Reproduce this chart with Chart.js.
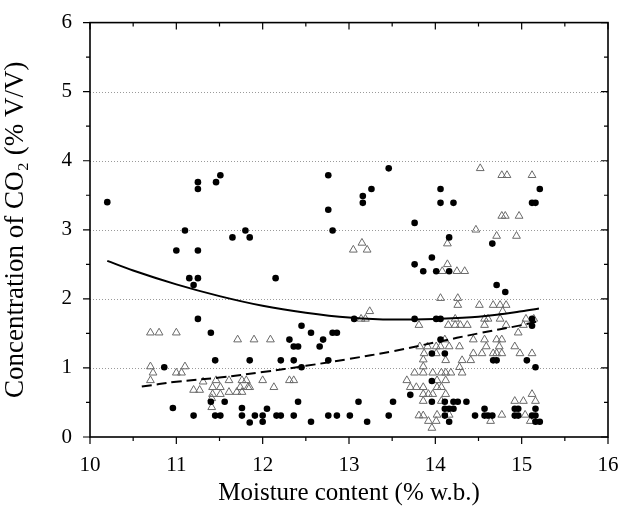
<!DOCTYPE html>
<html>
<head>
<meta charset="utf-8">
<script src="https://cdn.jsdelivr.net/npm/chart.js@4.4.1/dist/chart.umd.min.js"></script>
<style>
  html, body { margin: 0; padding: 0; background: #fff; }
  #wrap { width: 633px; height: 508px; }
</style>
</head>
<body>
<div id="wrap"><canvas id="co2Chart" width="633" height="508"></canvas></div>
<script>
// filled circles
var dotX = [10.20, 11.25, 11.25, 11.46, 11.51, 11.10, 11.65, 11.80, 11.85, 11.00, 11.25, 11.15, 11.25, 11.20,
  11.25, 11.40, 11.45, 10.86, 11.85, 10.96, 11.20, 11.40, 11.56, 11.45, 11.51, 11.76, 11.76, 11.85, 11.91, 12.00, 12.00, 12.05,
  12.15, 12.76, 12.76, 12.81, 13.16, 13.16, 13.26, 13.46,
  12.45, 12.56, 12.31, 12.36, 12.41, 12.66, 12.70, 12.81, 12.86, 12.21, 12.36, 12.76, 12.45,
  12.41, 12.16, 12.21, 12.36, 12.56, 12.76, 12.86, 13.01, 13.11, 13.21, 13.46, 13.51, 13.71,
  14.06, 14.06, 14.21, 15.21, 15.12, 15.16, 13.76, 14.16, 14.66, 13.76, 13.86, 13.96, 14.01, 14.16, 14.71, 14.81,
  13.06, 13.76, 14.01, 14.06, 15.12, 15.12, 14.06, 13.96, 14.11, 14.67, 14.71, 15.06, 15.16,
  13.96, 13.96, 14.11, 14.21, 14.26, 14.36, 14.11, 14.16, 14.21, 14.57, 14.11, 14.46, 14.57, 14.61, 14.66, 14.16,
  14.92, 14.96, 15.16, 14.92, 14.96, 15.12, 15.16, 15.16, 15.21];
var dotY = [3.40, 3.69, 3.59, 3.69, 3.79, 2.99, 2.89, 2.99, 2.89, 2.70, 2.70, 2.30, 2.30, 2.20,
  1.71, 1.51, 1.11, 1.01, 1.11, 0.42, 0.31, 0.51, 0.51, 0.31, 0.31, 0.42, 0.31, 0.21, 0.31, 0.31, 0.22, 0.41,
  2.30, 3.79, 3.29, 2.99, 3.49, 3.39, 3.59, 3.89,
  1.61, 1.51, 1.41, 1.31, 1.31, 1.31, 1.41, 1.51, 1.51, 1.11, 1.11, 1.11, 1.01,
  0.51, 0.31, 0.31, 0.31, 0.22, 0.31, 0.31, 0.31, 0.51, 0.22, 0.31, 0.51, 0.61,
  3.59, 3.39, 3.39, 3.59, 3.39, 3.39, 3.10, 2.89, 2.80, 2.50, 2.40, 2.60, 2.40, 2.40, 2.20, 2.10,
  1.71, 1.71, 1.71, 1.71, 1.71, 1.61, 1.41, 1.21, 1.21, 1.11, 1.11, 1.11, 1.01,
  0.81, 0.51, 0.51, 0.51, 0.51, 0.51, 0.41, 0.41, 0.41, 0.41, 0.31, 0.31, 0.31, 0.31, 0.31, 0.22,
  0.41, 0.41, 0.41, 0.31, 0.31, 0.31, 0.31, 0.22, 0.22];

// open triangles
var triX = [10.70, 10.80, 11.00, 11.71, 11.90, 12.09, 10.70, 10.73, 10.70, 11.00, 11.06, 11.10,
  11.31, 11.20, 11.27, 11.46, 11.42, 11.51, 11.42, 11.51, 11.41, 11.41,
  11.61, 11.76, 11.81, 11.74, 11.83, 11.61, 11.70, 11.76, 12.00, 11.85, 12.13, 12.31, 12.36,
  13.05, 13.15, 13.21, 13.14, 13.19, 13.24, 13.81,
  13.86, 13.86, 13.76, 13.86, 13.67, 13.71, 13.78, 13.86, 13.86, 13.86, 13.81, 13.86,
  14.52, 14.77, 14.83, 15.12, 14.77, 14.81, 14.97, 14.47, 14.71, 14.94, 14.14, 14.14, 14.08, 14.25, 14.34,
  14.06, 14.26, 14.26, 14.51, 14.67, 14.75, 14.82, 14.78, 14.57, 14.61, 14.75, 15.05, 15.14, 14.23,
  14.15, 14.23, 14.29, 14.37, 14.57, 14.82, 15.02, 14.96, 14.11, 14.44, 14.57, 14.71, 14.77,
  13.82, 13.91, 14.01, 14.06, 14.16, 14.28, 14.59, 14.74, 14.92,
  13.87, 14.01, 14.44, 14.54, 14.67, 14.71, 14.77, 14.98, 15.12,
  14.12, 14.31, 14.41, 14.28, 13.97, 14.07, 14.12, 14.18, 14.31, 14.02, 14.12,
  14.02, 14.07, 13.92, 13.97, 14.12, 15.12, 14.07, 14.92, 15.02, 15.16,
  14.02, 14.16, 14.77, 15.04, 13.92, 14.64, 15.10, 13.96, 14.01];
var triY = [1.51, 1.51, 1.51, 1.41, 1.41, 1.41, 1.02, 0.93, 0.82, 0.93, 0.93, 1.02,
  0.80, 0.68, 0.68, 0.82, 0.72, 0.72, 0.62, 0.62, 0.56, 0.43,
  0.82, 0.82, 0.82, 0.72, 0.72, 0.65, 0.65, 0.65, 0.82, 0.72, 0.72, 0.82, 0.82,
  2.71, 2.81, 2.71, 1.71, 1.71, 1.82, 1.62,
  1.12, 1.02, 0.93, 0.93, 0.82, 0.72, 0.72, 0.72, 0.62, 0.52, 0.31, 0.31,
  3.89, 3.79, 3.79, 3.79, 3.20, 3.20, 3.20, 3.00, 2.91, 2.91, 2.80, 2.50, 2.40, 2.40, 2.40,
  2.01, 2.01, 1.91, 1.91, 1.91, 1.91, 1.91, 1.82, 1.71, 1.71, 1.71, 1.71, 1.71, 1.71,
  1.62, 1.62, 1.62, 1.62, 1.62, 1.62, 1.62, 1.51, 1.41, 1.41, 1.41, 1.41, 1.41,
  1.31, 1.31, 1.31, 1.31, 1.31, 1.31, 1.31, 1.31, 1.31,
  1.21, 1.21, 1.21, 1.21, 1.21, 1.21, 1.21, 1.21, 1.21,
  1.11, 1.11, 1.11, 1.01, 0.93, 0.93, 0.93, 0.93, 0.93, 0.82, 0.82,
  0.72, 0.72, 0.62, 0.62, 0.62, 0.62, 0.52, 0.52, 0.52, 0.52,
  0.32, 0.32, 0.32, 0.32, 0.23, 0.23, 0.23, 0.13, 0.23];

// fitted curves
var fitX = [10.2, 10.5, 11.0, 11.5, 12.0, 12.5, 13.0, 13.5, 14.0, 14.5, 15.0, 15.2];
var fitY = [2.55, 2.41, 2.21, 2.04, 1.90, 1.80, 1.73, 1.70, 1.71, 1.74, 1.82, 1.86];
var dashX = [10.6, 11.0, 11.5, 12.0, 12.5, 13.0, 13.5, 14.0, 14.5, 15.0, 15.2];
var dashY = [0.73, 0.80, 0.86, 0.94, 1.03, 1.13, 1.24, 1.37, 1.50, 1.62, 1.68];

var xTicks = [10, 11, 12, 13, 14, 15, 16];
var yTicks = [0, 1, 2, 3, 4, 5, 6];

function pts(xs, ys) {
  return xs.map(function (x, i) { return { x: x, y: ys[i] }; });
}

// frame, inside/outside ticks and dotted grid
var framePlugin = {
  id: 'frame',
  beforeDatasetsDraw: function (chart) {
    var c = chart.ctx, a = chart.chartArea, ys = chart.scales.y;
    c.save();
    c.strokeStyle = '#9a9a9a';
    c.lineWidth = 1;
    c.setLineDash([1, 2]);
    for (var v = 1; v <= 5; v++) {
      var py = Math.round(ys.getPixelForValue(v)) + 0.5;
      c.beginPath(); c.moveTo(a.left, py); c.lineTo(a.right, py); c.stroke();
    }
    c.restore();
  },
  afterDraw: function (chart) {
    var c = chart.ctx, a = chart.chartArea, xs = chart.scales.x, ys = chart.scales.y;
    c.save();
    c.strokeStyle = '#000';
    c.lineWidth = 1.6;
    c.strokeRect(a.left, a.top, a.right - a.left, a.bottom - a.top);
    c.lineWidth = 1.2;
    c.beginPath();
    for (var v = 10; v <= 16.001; v += 0.5) {
      var px = xs.getPixelForValue(v);
      var len = (v % 1 === 0) ? 7 : 4;
      c.moveTo(px, a.bottom); c.lineTo(px, a.bottom + len);
      c.moveTo(px, a.top); c.lineTo(px, a.top + len);
    }
    for (var w = 0; w <= 6.001; w += 0.5) {
      var py = ys.getPixelForValue(w);
      var l2 = (w % 1 === 0) ? 7 : 4;
      c.moveTo(a.left, py); c.lineTo(a.left - l2, py);
      c.moveTo(a.right, py); c.lineTo(a.right - l2, py);
    }
    c.stroke();
    c.restore();
  }
};

var ctx = document.getElementById('co2Chart').getContext('2d');
var myChart = new Chart(ctx, {
  type: 'scatter',
  data: {
    datasets: [
      {
        label: 'fit 1',
        type: 'line',
        data: pts(fitX, fitY),
        borderColor: '#000',
        borderWidth: 2,
        pointRadius: 0,
        tension: 0.4,
        cubicInterpolationMode: 'monotone',
        order: 0
      },
      {
        label: 'fit 2',
        type: 'line',
        data: pts(dashX, dashY),
        borderColor: '#000',
        borderWidth: 2,
        borderDash: [10, 5],
        pointRadius: 0,
        tension: 0.4,
        order: 0
      },
      {
        label: 'dots',
        data: pts(dotX, dotY),
        pointStyle: 'circle',
        pointRadius: 3.3,
        backgroundColor: '#000',
        borderColor: '#000',
        borderWidth: 0,
        order: 1
      },
      {
        label: 'triangles',
        data: pts(triX, triY),
        pointStyle: 'triangle',
        pointRadius: 4.5,
        backgroundColor: 'rgba(255,255,255,0)',
        borderColor: '#6a6a6a',
        borderWidth: 1,
        order: 2
      }
    ]
  },
  options: {
    responsive: false,
    animation: false,
    layout: { padding: { top: 17, right: 25, left: 0, bottom: 0 } },
    plugins: {
      legend: { display: false },
      tooltip: { enabled: false }
    },
    scales: {
      x: {
        type: 'linear',
        min: 10,
        max: 16,
        afterBuildTicks: function (s) { s.ticks = xTicks.map(function (v) { return { value: v }; }); },
        ticks: { color: '#000', font: { family: 'Liberation Serif', size: 21 }, padding: 8, maxRotation: 0 },
        grid: { display: false },
        border: { display: false },
        title: {
          display: true,
          text: 'Moisture content (% w.b.)',
          color: '#000',
          font: { family: 'Liberation Serif', size: 25 },
          padding: { top: 0, bottom: 0 }
        },
        afterFit: function (s) { s.height = 71; }
      },
      y: {
        min: 0,
        max: 6,
        afterBuildTicks: function (s) { s.ticks = yTicks.map(function (v) { return { value: v }; }); },
        ticks: { color: '#000', font: { family: 'Liberation Serif', size: 21 }, padding: 10 },
        grid: { display: false },
        border: { display: false },
        title: {
          display: true,
          text: 'Concentration of CO\u2082 (% V/V)',
          color: '#000',
          font: { family: 'Liberation Serif', size: 27 },
          padding: { top: 0, bottom: 4 }
        },
        afterFit: function (s) { s.width = 90; }
      }
    }
  },
  plugins: [framePlugin]
});
</script>
</body>
</html>
